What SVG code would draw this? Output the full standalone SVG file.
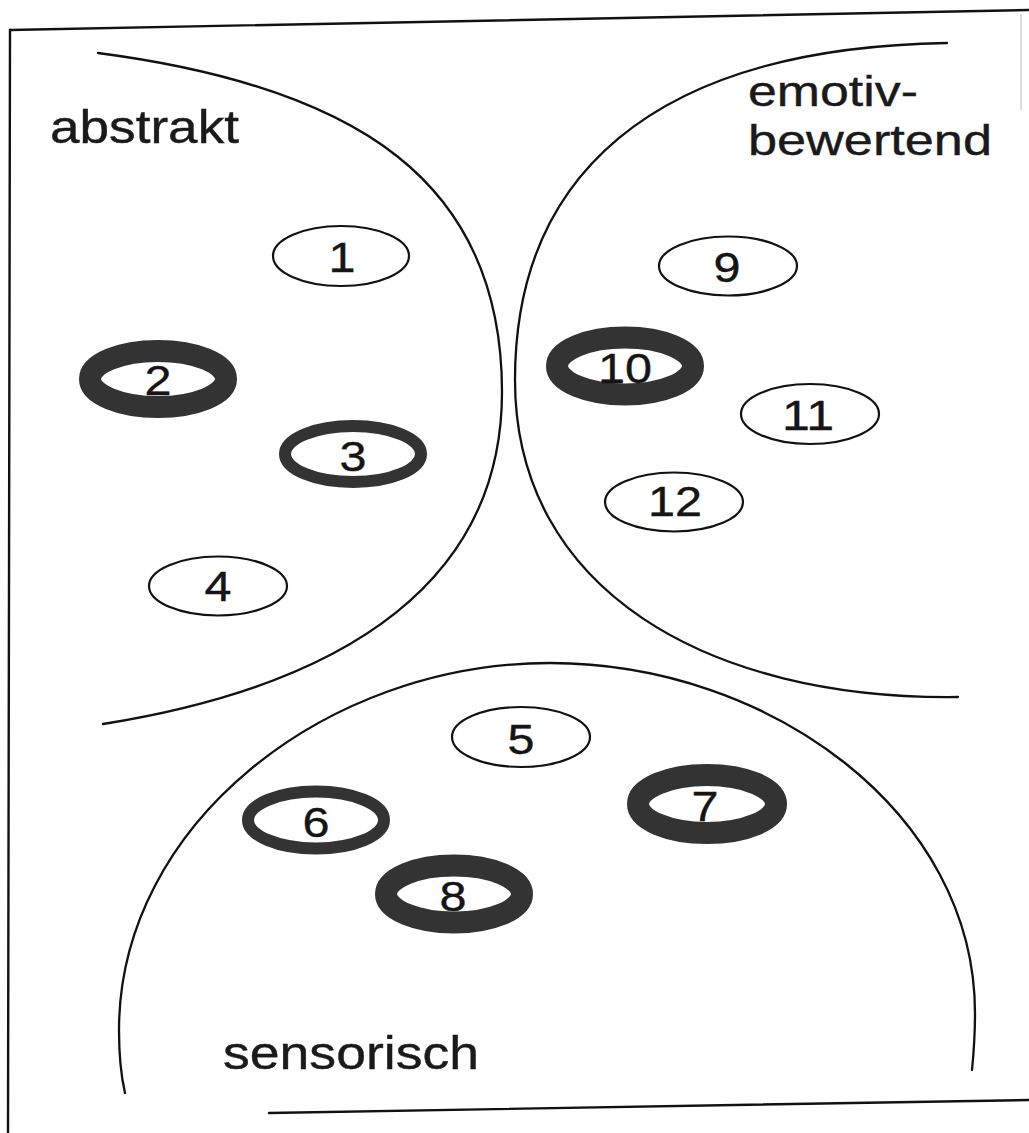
<svg xmlns="http://www.w3.org/2000/svg" width="1029" height="1133" viewBox="0 0 1029 1133">
  <style>
    .frame { fill: none; stroke: #111; stroke-width: 2.4; stroke-linecap: round; }
    .region { fill: none; stroke: #111; stroke-width: 2.3; stroke-linecap: round; }
    .thin { fill: #fff; stroke: #111; stroke-width: 2.2; }
    .mid { fill: #fff; stroke: #333; stroke-width: 12; }
    .bold { fill: #fff; stroke: #333; stroke-width: 22; }
    .num { font-family: "Liberation Sans", Arial, sans-serif; font-size: 43px; fill: #151515; stroke: #151515; stroke-width: 0.4; text-anchor: middle; }
    .label { font-family: "Liberation Sans", Arial, sans-serif; font-size: 46px; fill: #1a1a1a; stroke: #1a1a1a; stroke-width: 0.4; }
    .label.two-line { font-size: 42.5px; }
  </style>
  <rect width="1029" height="1133" fill="#fff"/>

  <!-- page frame -->
  <g id="frame">
    <path class="frame" d="M10,30 L1029,10"/>
    <path class="frame" d="M10,30 L8,1133"/>
    <path class="frame" d="M269,1113 L1029,1100"/>
    <path d="M1021,14 L1021,110" fill="none" stroke="#bbb" stroke-width="1"/>
  </g>

  <!-- the three category regions -->
  <g id="regions">
    <path id="region-abstrakt" class="region" d="M98,53 C358,87 502,182 502,392 C502,577 353,684 103,724"/>
    <path id="region-emotiv" class="region" d="M947,43 C647,48 515,180 515,380 C515,590 708,700 958,697"/>
    <path id="region-sensorisch" class="region" d="M125,1093 C122,1080 119,1060 119,1030 C119,825 325,663 550,663 C770,663 975,813 975,1013 C975,1040 973.5,1055 972,1070"/>
  </g>

  <!-- region labels -->
  <g id="labels">
    <text class="label" x="50" y="143" textLength="189" lengthAdjust="spacingAndGlyphs">abstrakt</text>
    <text class="label two-line" x="748" y="106" textLength="170" lengthAdjust="spacingAndGlyphs">emotiv-</text>
    <text class="label two-line" x="748" y="155" textLength="244" lengthAdjust="spacingAndGlyphs">bewertend</text>
    <text class="label" x="223" y="1069" textLength="256" lengthAdjust="spacingAndGlyphs">sensorisch</text>
  </g>

  <!-- numbered items -->
  <g id="node-1"><ellipse class="thin" cx="341" cy="256" rx="68" ry="30"/><text class="num" x="342" y="272" textLength="27" lengthAdjust="spacingAndGlyphs">1</text></g>
  <g id="node-2"><ellipse class="bold" cx="158" cy="379" rx="68" ry="28"/><text class="num" x="158" y="395" textLength="27" lengthAdjust="spacingAndGlyphs">2</text></g>
  <g id="node-3"><ellipse class="mid" cx="353" cy="454" rx="68" ry="28"/><text class="num" x="353" y="471" textLength="27" lengthAdjust="spacingAndGlyphs">3</text></g>
  <g id="node-4"><ellipse class="thin" cx="218" cy="586" rx="69" ry="29.5"/><text class="num" x="218" y="601" textLength="27" lengthAdjust="spacingAndGlyphs">4</text></g>
  <g id="node-5"><ellipse class="thin" cx="521" cy="737" rx="69" ry="30"/><text class="num" x="521" y="754" textLength="27" lengthAdjust="spacingAndGlyphs">5</text></g>
  <g id="node-6"><ellipse class="mid" cx="316" cy="820" rx="68" ry="28.5"/><text class="num" x="316" y="837" textLength="27" lengthAdjust="spacingAndGlyphs">6</text></g>
  <g id="node-7"><ellipse class="bold" cx="707" cy="804" rx="69" ry="29"/><text class="num" x="705" y="821" textLength="27" lengthAdjust="spacingAndGlyphs">7</text></g>
  <g id="node-8"><ellipse class="bold" cx="454" cy="894" rx="68" ry="28.5"/><text class="num" x="453" y="911" textLength="27" lengthAdjust="spacingAndGlyphs">8</text></g>
  <g id="node-9"><ellipse class="thin" cx="728" cy="266" rx="69" ry="29.5"/><text class="num" x="727" y="282" textLength="27" lengthAdjust="spacingAndGlyphs">9</text></g>
  <g id="node-10"><ellipse class="bold" cx="625" cy="366" rx="68" ry="28.5"/><text class="num" x="625" y="383" textLength="54" lengthAdjust="spacingAndGlyphs">10</text></g>
  <g id="node-11"><ellipse class="thin" cx="810" cy="414" rx="69" ry="30"/><text class="num" x="808" y="430" textLength="52" lengthAdjust="spacingAndGlyphs">11</text></g>
  <g id="node-12"><ellipse class="thin" cx="674" cy="502" rx="69" ry="29.5"/><text class="num" x="675" y="516" textLength="54" lengthAdjust="spacingAndGlyphs">12</text></g>
</svg>
